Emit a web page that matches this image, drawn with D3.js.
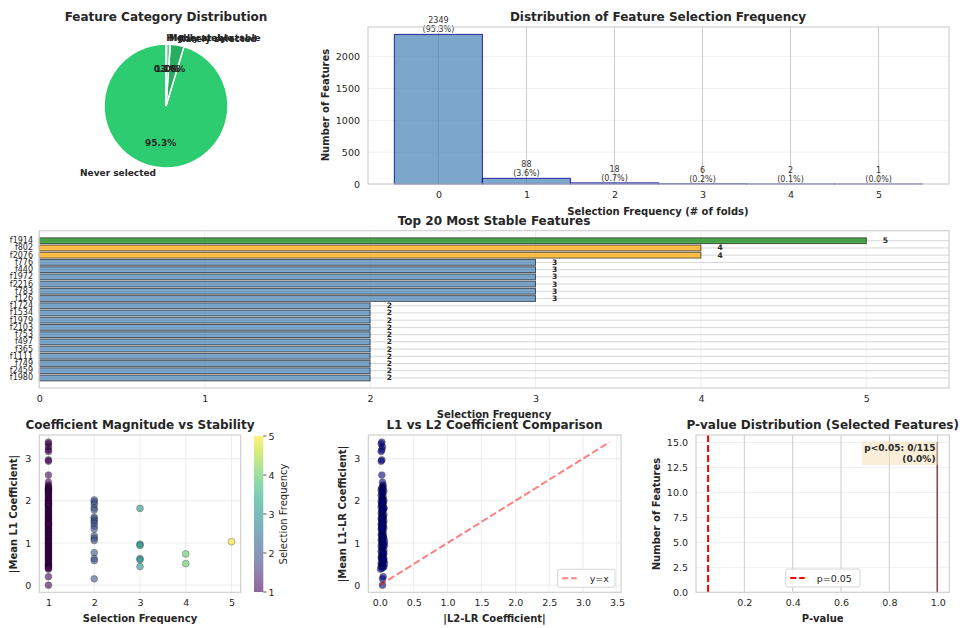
<!DOCTYPE html>
<html>
<head>
<meta charset="utf-8">
<script src="https://cdn.jsdelivr.net/npm/d3@7"></script>
<style>
  body { margin: 0; background: #fff; }
  svg { font-family: "DejaVu Sans", sans-serif; }
</style>
</head>
<body>
<svg id="chart" width="964" height="628"></svg>
<script>
// ---- data ----
const pieLabels = ['Never selected', 'Rarely selected', 'Moderately stable', 'Highly stable'];
const pieCounts = [2349, 88, 24, 3];
const pieColors = ['#2ecc71', '#27ae60', '#58d68d', '#82e0aa'];

const freqBins = [0, 1, 2, 3, 4, 5];
const freqCounts = [2349, 88, 18, 6, 2, 1];

const topFeatures = ['f1914', 'f802', 'f2076', 'f776', 'f440', 'f1972', 'f2216', 'f783', 'f126',
  'f1724', 'f1534', 'f1979', 'f2103', 'f753', 'f497', 'f365', 'f1111', 'f749', 'f2459', 'f1980'];
const topFreq = [5, 4, 4, 3, 3, 3, 3, 3, 3, 2, 2, 2, 2, 2, 2, 2, 2, 2, 2, 2];

// |mean L1 coef| and |L2 coef| of the selected features, grouped by selection frequency
const l1Freq1 = [3.39, 3.35, 3.28, 3.21, 3.17, 2.97, 2.94, 2.61, 2.44, 2.37,
  2.33, 2.30, 2.29, 2.26, 2.24, 2.22, 2.19, 2.16, 2.13, 2.10,
  2.07, 2.04, 2.01, 1.99, 1.96, 1.93, 1.90, 1.88, 1.85, 1.82,
  1.79, 1.77, 1.74, 1.71, 1.68, 1.66, 1.63, 1.60, 1.58, 1.55,
  1.52, 1.50, 1.47, 1.44, 1.42, 1.39, 1.36, 1.34, 1.31, 1.28,
  1.26, 1.23, 1.20, 1.18, 1.15, 1.12, 1.10, 1.07, 1.04, 1.01,
  0.99, 0.96, 0.93, 0.91, 0.88, 0.85, 0.82, 0.80, 0.77, 0.74,
  0.71, 0.69, 0.66, 0.63, 0.61, 0.58, 0.55, 0.52, 0.50, 0.47,
  0.45, 0.42, 0.40, 0.38, 1.93, 1.45, 0.20, 0.00];
const l2Freq1 = [0.03, 0.02, 0.04, 0.03, 0.02, 0.03, 0.02, 0.03, 0.04, 0.05,
  0.04, 0.03, 0.05, 0.02, 0.04, 0.06, 0.03, 0.04, 0.02, 0.05,
  0.03, 0.04, 0.06, 0.02, 0.03, 0.05, 0.04, 0.03, 0.02, 0.04,
  0.05, 0.03, 0.04, 0.02, 0.06, 0.03, 0.04, 0.05, 0.02, 0.03,
  0.04, 0.03, 0.05, 0.02, 0.04, 0.03, 0.06, 0.02, 0.04, 0.03,
  0.05, 0.04, 0.02, 0.03, 0.05, 0.04, 0.03, 0.02, 0.04, 0.05,
  0.03, 0.04, 0.02, 0.05, 0.03, 0.04, 0.06, 0.02, 0.03, 0.04,
  0.05, 0.03, 0.02, 0.04, 0.03, 0.05, 0.04, 0.02, 0.03, 0.04,
  0.02, 0.05, 0.03, 0.01, 0.04, 0.03, 0.05, 0.04];
const l1Freq2 = [2.02, 1.98, 1.92, 1.83, 1.78, 1.61, 1.57, 1.52, 1.47, 1.40, 1.33, 1.17, 1.11, 1.06, 0.77, 0.63, 0.58, 0.15];
const l2Freq2 = [0.04, 0.05, 0.03, 0.06, 0.04, 0.05, 0.03, 0.06, 0.04, 0.05, 0.03, 0.05, 0.06, 0.04, 0.05, 0.03, 0.06, 0.04];
const l1Freq3 = [1.82, 0.97, 0.94, 0.63, 0.60, 0.44];
const l2Freq3 = [0.06, 0.05, 0.07, 0.06, 0.05, 0.06];
const l1Freq4 = [0.74, 0.51];
const l2Freq4 = [0.06, 0.07];
const l1Freq5 = [1.03];
const l2Freq5 = [0.07];

const pThreshold = 0.05;
const pHistEdges = [0.996, 1.0];
const pHistCounts = [15];
const nSelected = 115;
const nSignificant = 0;

// ---- helpers ----
const svg = d3.select('#chart');
const TXT = '#262626';
const GRID_DARK = '#cccccc';
const GRID_LIGHT = '#ececec';

const coefPoints = [];
[[l1Freq1, l2Freq1], [l1Freq2, l2Freq2], [l1Freq3, l2Freq3], [l1Freq4, l2Freq4], [l1Freq5, l2Freq5]]
  .forEach(([l1, l2], k) => l1.forEach((v, i) => coefPoints.push({ freq: k + 1, l1: v, l2: l2[i] })));

function vgrid(x, ticks, y0, y1, color) {
  svg.append('g').selectAll('line').data(ticks).join('line')
    .attr('x1', d => x(d)).attr('x2', d => x(d))
    .attr('y1', y0).attr('y2', y1)
    .attr('stroke', color).attr('stroke-width', 1);
}

function hgrid(y, ticks, x0, x1, color) {
  svg.append('g').selectAll('line').data(ticks).join('line')
    .attr('y1', d => y(d)).attr('y2', d => y(d))
    .attr('x1', x0).attr('x2', x1)
    .attr('stroke', color).attr('stroke-width', 1);
}

function frame(x0, y0, x1, y1) {
  svg.append('rect')
    .attr('x', x0).attr('y', y0)
    .attr('width', x1 - x0).attr('height', y1 - y0)
    .attr('fill', 'none').attr('stroke', GRID_DARK).attr('stroke-width', 1.1);
}

function styleAxis(a) {
  a.select('.domain').remove();
  a.attr('font-family', null).attr('font-size', null);
  a.selectAll('text').attr('fill', TXT).style('font-size', '9.5px');
}

function bottomAxis(x, ticks, y0, fmt) {
  const a = svg.append('g')
    .attr('transform', `translate(0,${y0})`)
    .call(d3.axisBottom(x).tickValues(ticks).tickSize(0).tickPadding(7).tickFormat(fmt));
  styleAxis(a);
}

function leftAxis(y, ticks, x0, fmt) {
  const a = svg.append('g')
    .attr('transform', `translate(${x0},0)`)
    .call(d3.axisLeft(y).tickValues(ticks).tickSize(0).tickPadding(8).tickFormat(fmt));
  styleAxis(a);
}

function title(x, y, str) {
  svg.append('text').attr('x', x).attr('y', y)
    .attr('text-anchor', 'middle').attr('fill', TXT)
    .style('font-size', '12px').style('font-weight', 'bold').text(str);
}

function xlabel(x, y, str) {
  svg.append('text').attr('x', x).attr('y', y)
    .attr('text-anchor', 'middle').attr('fill', TXT)
    .style('font-size', '10px').style('font-weight', 'bold').text(str);
}

function ylabel(x, y, str, weight) {
  svg.append('text')
    .attr('transform', `translate(${x},${y}) rotate(-90)`)
    .attr('text-anchor', 'middle').attr('fill', TXT)
    .style('font-size', '10px').style('font-weight', weight || 'bold').text(str);
}

// ---- 1. pie ----
const R = 62;
const pieG = svg.append('g').attr('transform', 'translate(166,106)');
const arcs = d3.pie().sort(null).startAngle(0).endAngle(-2 * Math.PI)(pieCounts);
const pieTotal = d3.sum(pieCounts);

pieG.selectAll('path').data(arcs).join('path')
  .attr('d', d3.arc().innerRadius(0).outerRadius(R))
  .attr('fill', (d, i) => pieColors[i])
  .attr('stroke', '#fff').attr('stroke-width', 1.5);

arcs.forEach((d, i) => {
  const m = (d.startAngle + d.endAngle) / 2;
  const lx = Math.sin(m) * R * 1.1, ly = -Math.cos(m) * R * 1.1;
  pieG.append('text')
    .attr('x', lx).attr('y', ly)
    .attr('text-anchor', lx > 0 ? 'start' : 'end')
    .attr('dominant-baseline', 'central')
    .attr('fill', TXT).style('font-size', '9px').style('font-weight', 'bold')
    .text(pieLabels[i]);
  pieG.append('text')
    .attr('x', Math.sin(m) * R * 0.6).attr('y', -Math.cos(m) * R * 0.6)
    .attr('text-anchor', 'middle')
    .attr('dominant-baseline', 'central')
    .attr('fill', TXT).style('font-size', '9px').style('font-weight', 'bold')
    .text((100 * pieCounts[i] / pieTotal).toFixed(1) + '%');
});
title(166, 21, 'Feature Category Distribution');

// ---- 2. selection frequency histogram ----
const x2 = d3.scaleLinear().domain([-0.8, 5.8]).range([368, 949]);
const y2 = d3.scaleLinear().domain([0, 2466]).range([184, 27]);
const freqTotal = d3.sum(freqCounts);

hgrid(y2, [0, 500, 1000, 1500, 2000], 368, 949, '#f0f0f0');
vgrid(x2, freqBins, 27, 184, GRID_DARK);

svg.append('g').selectAll('rect').data(freqBins).join('rect')
  .attr('x', d => x2(d - 0.5))
  .attr('width', d => x2(d + 0.5) - x2(d - 0.5))
  .attr('y', (d, i) => y2(freqCounts[i]))
  .attr('height', (d, i) => y2(0) - y2(freqCounts[i]))
  .attr('fill', 'steelblue').attr('fill-opacity', 0.7)
  .attr('stroke', 'darkblue').attr('stroke-opacity', 0.7).attr('stroke-width', 1.2);

const freqLbl = svg.append('g').selectAll('text').data(freqBins).join('text')
  .attr('text-anchor', 'middle').attr('fill', '#333')
  .style('font-size', '8px');
freqLbl.append('tspan')
  .attr('x', d => x2(d)).attr('y', (d, i) => y2(freqCounts[i]) - 11)
  .text((d, i) => freqCounts[i]);
freqLbl.append('tspan')
  .attr('x', d => x2(d)).attr('y', (d, i) => y2(freqCounts[i]) - 2)
  .text((d, i) => `(${(100 * freqCounts[i] / freqTotal).toFixed(1)}%)`);

frame(368, 27, 949, 184);
bottomAxis(x2, freqBins, 184, d3.format('d'));
leftAxis(y2, [0, 500, 1000, 1500, 2000], 368, d3.format('d'));
title(658, 21, 'Distribution of Feature Selection Frequency');
xlabel(658, 215, 'Selection Frequency (# of folds)');
ylabel(329, 105, 'Number of Features');

// ---- 3. top 20 features ----
const x3 = d3.scaleLinear().domain([0, 5.5]).range([39.3, 949]);
const y3 = d3.scaleLinear().domain([-1.39, 20.39]).range([230.7, 388]);
const idx = d3.range(topFeatures.length);
const barColor = f => f === 5 ? 'green' : f === 4 ? 'orange' : 'steelblue';

vgrid(x3, [0, 1, 2, 3, 4, 5], 230.7, 388, '#efefef');
hgrid(y3, idx, 39.3, 949, '#d6d6d6');

svg.append('g').selectAll('rect').data(idx).join('rect')
  .attr('x', x3(0))
  .attr('width', i => x3(topFreq[i]) - x3(0))
  .attr('y', i => y3(i - 0.4))
  .attr('height', i => y3(i + 0.4) - y3(i - 0.4))
  .attr('fill', i => barColor(topFreq[i])).attr('fill-opacity', 0.7)
  .attr('stroke', '#000').attr('stroke-opacity', 0.6).attr('stroke-width', 1);

svg.append('g').selectAll('text').data(idx).join('text')
  .attr('x', i => x3(topFreq[i] + 0.1)).attr('y', i => y3(i))
  .attr('dominant-baseline', 'central')
  .attr('fill', TXT).style('font-size', '7.5px').style('font-weight', 'bold')
  .text(i => topFreq[i]);

svg.append('g').selectAll('text').data(idx).join('text')
  .attr('x', 33).attr('y', i => y3(i))
  .attr('text-anchor', 'end').attr('dominant-baseline', 'central')
  .attr('fill', TXT).style('font-size', '8px')
  .text(i => topFeatures[i]);

frame(39.3, 230.7, 949, 388);
bottomAxis(x3, [0, 1, 2, 3, 4, 5], 388, d3.format('d'));
title(494, 225, 'Top 20 Most Stable Features');
xlabel(494, 418, 'Selection Frequency');

// ---- 4. coefficient magnitude vs stability ----
const x4 = d3.scaleLinear().domain([0.8, 5.2]).range([39.3, 240.7]);
const y4 = d3.scaleLinear().domain([-0.17, 3.56]).range([592.3, 435]);
const cFreq = f => d3.interpolateViridis((f - 1) / 4);

vgrid(x4, [1, 2, 3, 4, 5], 435, 592.3, GRID_LIGHT);
hgrid(y4, [0, 1, 2, 3], 39.3, 240.7, GRID_LIGHT);

svg.append('g').selectAll('circle').data(coefPoints).join('circle')
  .attr('cx', d => x4(d.freq)).attr('cy', d => y4(d.l1)).attr('r', 3.4)
  .attr('fill', d => cFreq(d.freq))
  .attr('stroke', '#000').attr('stroke-width', 0.5)
  .attr('opacity', 0.6);

frame(39.3, 435, 240.7, 592.3);
bottomAxis(x4, [1, 2, 3, 4, 5], 592.3, d3.format('d'));
leftAxis(y4, [0, 1, 2, 3], 39.3, d3.format('d'));
title(140, 429, 'Coefficient Magnitude vs Stability');
xlabel(140, 622, 'Selection Frequency');
ylabel(17, 514, '|Mean L1 Coefficient|');

// colorbar
const cb = d3.scaleLinear().domain([1, 5]).range([592, 436]);
const grad = svg.append('defs').append('linearGradient')
  .attr('id', 'viridis').attr('x1', 0).attr('y1', 1).attr('x2', 0).attr('y2', 0);
d3.range(0, 1.0001, 0.1).forEach(t => {
  grad.append('stop').attr('offset', t).attr('stop-color', d3.interpolateViridis(t));
});
svg.append('rect')
  .attr('x', 254).attr('y', cb(5)).attr('width', 9.3).attr('height', cb(1) - cb(5))
  .attr('fill', 'url(#viridis)').attr('fill-opacity', 0.6);
svg.append('g').selectAll('line').data([1, 2, 3, 4, 5]).join('line')
  .attr('x1', 263.3).attr('x2', 266.5).attr('y1', d => cb(d)).attr('y2', d => cb(d))
  .attr('stroke', TXT).attr('stroke-width', 0.8);
svg.append('g').selectAll('text').data([1, 2, 3, 4, 5]).join('text')
  .attr('x', 268.5).attr('y', d => cb(d)).attr('dominant-baseline', 'central')
  .attr('fill', TXT).style('font-size', '9.5px').text(d => d);
ylabel(287, 514, 'Selection Frequency', 'normal');

// ---- 5. L1 vs L2 ----
const x5 = d3.scaleLinear().domain([-0.17, 3.56]).range([368.3, 621]);
const y5 = y4.copy();
const x5Ticks = [0, 0.5, 1, 1.5, 2, 2.5, 3, 3.5];
const refLine = [0, d3.max(coefPoints, d => d.l1)];

vgrid(x5, x5Ticks, 435, 592.3, GRID_LIGHT);
hgrid(y5, [0, 1, 2, 3], 368.3, 621, GRID_LIGHT);

svg.append('g').selectAll('circle').data(coefPoints).join('circle')
  .attr('cx', d => x5(d.l2)).attr('cy', d => y5(d.l1)).attr('r', 3.4)
  .attr('fill', 'navy')
  .attr('stroke', '#000').attr('stroke-width', 0.5)
  .attr('opacity', 0.6);

svg.append('line')
  .attr('x1', x5(refLine[0])).attr('y1', y5(refLine[0]))
  .attr('x2', x5(refLine[1])).attr('y2', y5(refLine[1]))
  .attr('stroke', 'red').attr('stroke-opacity', 0.5)
  .attr('stroke-width', 2).attr('stroke-dasharray', '7,3');

const lg5 = svg.append('g').attr('transform', 'translate(557.7,569.3)');
lg5.append('rect').attr('width', 57.3).attr('height', 18).attr('rx', 2)
  .attr('fill', '#fff').attr('fill-opacity', 0.8).attr('stroke', '#d6d6d6');
lg5.append('line').attr('x1', 4.5).attr('x2', 19).attr('y1', 9).attr('y2', 9)
  .attr('stroke', 'red').attr('stroke-opacity', 0.5)
  .attr('stroke-width', 2).attr('stroke-dasharray', '6,3');
lg5.append('text').attr('x', 32).attr('y', 9).attr('dominant-baseline', 'central')
  .attr('fill', TXT).style('font-size', '9.5px').text('y=x');

frame(368.3, 435, 621, 592.3);
bottomAxis(x5, x5Ticks, 592.3, d3.format('.1f'));
leftAxis(y5, [0, 1, 2, 3], 368.3, d3.format('d'));
title(494.5, 429, 'L1 vs L2 Coefficient Comparison');
xlabel(494.5, 622, '|L2-LR Coefficient|');
ylabel(346, 514, '|Mean L1-LR Coefficient|');

// ---- 6. p-value distribution ----
const x6 = d3.scaleLinear().domain([0, 1.048]).range([696, 949.3]);
const y6 = d3.scaleLinear().domain([0, 15.75]).range([592.3, 435]);
const y6Ticks = [0, 2.5, 5, 7.5, 10, 12.5, 15];
const x6Ticks = [0.2, 0.4, 0.6, 0.8, 1.0];

hgrid(y6, y6Ticks, 696, 949.3, '#f0f0f0');
vgrid(x6, x6Ticks, 435, 592.3, GRID_DARK);

svg.append('g').selectAll('rect').data(pHistCounts).join('rect')
  .attr('x', (d, i) => x6(pHistEdges[i]))
  .attr('width', (d, i) => x6(pHistEdges[i + 1]) - x6(pHistEdges[i]))
  .attr('y', d => y6(d)).attr('height', d => y6(0) - y6(d))
  .attr('fill', 'darkred').attr('fill-opacity', 0.8)
  .attr('stroke', '#000').attr('stroke-opacity', 0.4).attr('stroke-width', 0.5);

svg.append('line')
  .attr('x1', x6(pThreshold)).attr('x2', x6(pThreshold))
  .attr('y1', 435).attr('y2', 592.3)
  .attr('stroke', 'red').attr('stroke-width', 2).attr('stroke-dasharray', '7,3');

const boxG = svg.append('g');
const boxRect = boxG.append('rect').attr('fill', 'wheat').attr('fill-opacity', 0.5);
const boxTxt = boxG.append('text').attr('text-anchor', 'end')
  .attr('fill', TXT).style('font-size', '9px').style('font-weight', 'bold');
boxTxt.append('tspan').attr('x', 935.5).attr('y', 451)
  .text(`p<0.05: ${nSignificant}/${nSelected}`);
boxTxt.append('tspan').attr('x', 935.5).attr('y', 461.5)
  .text(`(${(100 * nSignificant / nSelected).toFixed(1)}%)`);
const bb = boxTxt.node().getBBox();
boxRect.attr('x', bb.x - 2.5).attr('y', bb.y - 1.5)
  .attr('width', bb.width + 5).attr('height', bb.height + 3).attr('rx', 1.5);

const lg6 = svg.append('g').attr('transform', 'translate(785.7,569)');
lg6.append('rect').attr('width', 74.3).attr('height', 18).attr('rx', 2)
  .attr('fill', '#fff').attr('fill-opacity', 0.8).attr('stroke', '#d6d6d6');
lg6.append('line').attr('x1', 4.5).attr('x2', 19).attr('y1', 9).attr('y2', 9)
  .attr('stroke', 'red').attr('stroke-width', 2).attr('stroke-dasharray', '6,3');
lg6.append('text').attr('x', 31).attr('y', 9).attr('dominant-baseline', 'central')
  .attr('fill', TXT).style('font-size', '9.5px').text('p=0.05');

frame(696, 435, 949.3, 592.3);
bottomAxis(x6, x6Ticks, 592.3, d3.format('.1f'));
leftAxis(y6, y6Ticks, 696, d3.format('.1f'));
title(822.7, 429, 'P-value Distribution (Selected Features)');
xlabel(822.7, 622, 'P-value');
ylabel(660, 514, 'Number of Features');
</script>
</body>
</html>
